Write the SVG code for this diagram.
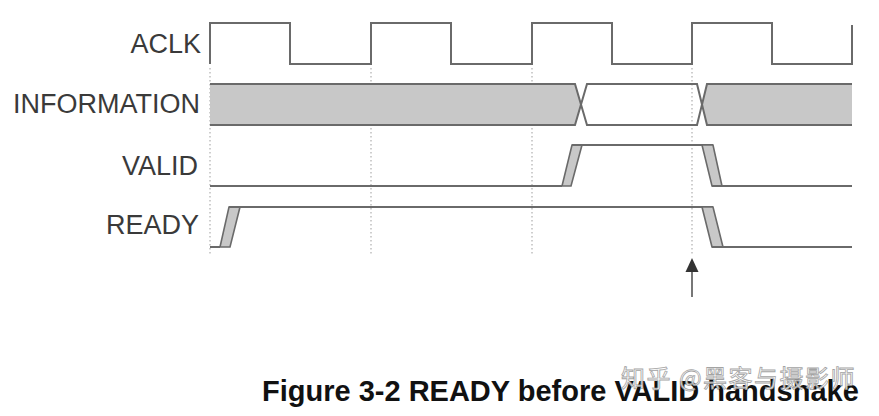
<svg xmlns="http://www.w3.org/2000/svg" width="879" height="416" viewBox="0 0 879 416">
<defs>
<style>
.lbl{font-family:"Liberation Sans",Arial,sans-serif;font-size:27px;fill:#3a3a3a;text-anchor:end}
.wave{fill:none;stroke:#6a6a6a;stroke-width:2;stroke-linejoin:miter}
.edge{fill:#c8c8c8;stroke:#6a6a6a;stroke-width:1.6;stroke-linejoin:miter}
.bus{fill:#c8c8c8;stroke:none}
.grid{stroke:#b4b4b4;stroke-width:1.3;stroke-dasharray:1.5 2.5;fill:none}
.cap{font-family:"Liberation Sans",Arial,sans-serif;font-size:29px;font-weight:bold;fill:#111}
.wm{font-family:"Noto Sans CJK SC","Liberation Sans",sans-serif;font-size:24px;letter-spacing:1.5px;fill:#ffffff;stroke:#9a9a9a;stroke-width:0.8;opacity:0.9}
</style>
</defs>
<rect width="879" height="416" fill="#fff"/>
<g id="grid">
<line class="grid" x1="210" y1="68" x2="210" y2="255"/>
<line class="grid" x1="371" y1="68" x2="371" y2="255"/>
<line class="grid" x1="532" y1="68" x2="532" y2="255"/>
<line class="grid" x1="692" y1="68" x2="692" y2="255"/>
</g>
<g id="labels">
<text class="lbl" x="201" y="53">ACLK</text>
<text class="lbl" x="200" y="113">INFORMATION</text>
<text class="lbl" x="198" y="175">VALID</text>
<text class="lbl" x="199" y="234">READY</text>
</g>
<g id="aclk">
<path class="wave" d="M210,64 V23 H290 V64 H371 V23 H451 V64 H532 V23 H612 V64 H692 V23 H772 V64 H852 V25"/>
</g>
<g id="information">
<polygon class="bus" points="210,84 575,84 581,104.5 575,125 210,125"/>
<polygon class="bus" points="852,84 707,84 702,104.5 707,125 852,125"/>
<path class="wave" d="M210,84 H575 L587,125 H697 L707,84 H852"/>
<path class="wave" d="M210,125 H575 L587,84 H697 L707,125 H852"/>
</g>
<g id="valid">
<path class="wave" d="M210,186 H562"/>
<polygon class="edge" points="562,186 571,186 582,145 572,145"/>
<path class="wave" d="M572,145 H713"/>
<polygon class="edge" points="702,145 713,145 722,186 712,186"/>
<path class="wave" d="M712,186 H852"/>
</g>
<g id="ready">
<path class="wave" d="M210,247 H220"/>
<polygon class="edge" points="220,247 230,247 240,207 229,207"/>
<path class="wave" d="M229,207 H713"/>
<polygon class="edge" points="702,207 713,207 723,247 712,247"/>
<path class="wave" d="M712,247 H852"/>
</g>
<g id="connectors">
<line x1="692" y1="297" x2="692" y2="270" stroke="#555" stroke-width="1.6"/>
<polygon points="692,258 685.5,272 698.5,272" fill="#333"/>
</g>
<g id="caption">
<text class="cap" x="262" y="401">Figure 3-2 READY before VALID handshake</text>
<text class="wm" x="621" y="387">知乎 @黑客与摄影师</text>
</g>
</svg>
